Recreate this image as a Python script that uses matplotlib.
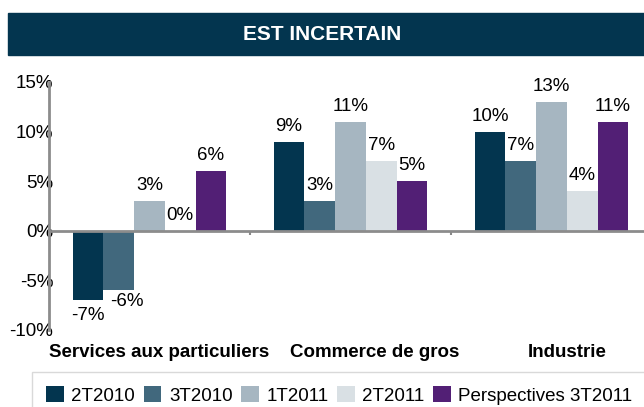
import numpy as np
import matplotlib.pyplot as plt
from matplotlib.patches import Rectangle

plt.rcParams['font.family'] = ['Liberation Sans', 'DejaVu Sans']

categories = ["Services aux particuliers", "Commerce de gros", "Industrie"]
series = ["2T2010", "3T2010", "1T2011", "2T2011", "Perspectives 3T2011"]
v_2t2010 = [-7, 9, 10]
v_3t2010 = [-6, 3, 7]
v_1t2011 = [3, 11, 13]
v_2t2011 = [0, 7, 4]
v_persp = [6, 5, 11]
colors = ["#03354f", "#41687d", "#a6b6c1", "#d9e0e4", "#521f75"]
title = "EST INCERTAIN"

values = [v_2t2010, v_3t2010, v_1t2011, v_2t2011, v_persp]
fs = 13.5

fig = plt.figure(figsize=(6.44, 4.07), dpi=100)

# title banner
fig.patches.append(Rectangle((8 / 644, 1 - 55 / 407), 1.0, 42 / 407,
                             transform=fig.transFigure, color="#03354f", zorder=0))
fig.text(322 / 644, 1 - 34 / 407, title, color="white", fontsize=15,
         fontweight="bold", ha="center", va="center")

ax = fig.add_axes([49 / 644, 1 - 330 / 407, 603 / 644, 248 / 407])
x = np.arange(len(categories))
w = 0.153
for i, (vals, c) in enumerate(zip(values, colors)):
    xs = x + (i - 2) * w
    ax.bar(xs, vals, w, color=c, label=series[i], zorder=2)
    for xx, v in zip(xs, vals):
        if v < 0:
            dx = 6 if i == 1 else 0
            dy = -2 if i == 1 else -5
            ax.annotate("%d%%" % v, (xx, v), xytext=(dx, dy), textcoords="offset points",
                        ha="center", va="top", fontsize=fs)
        else:
            ax.annotate("%d%%" % v, (xx, v), xytext=(0, 5), textcoords="offset points",
                        ha="center", va="bottom", fontsize=fs)

ax.set_xlim(-0.5, 2.5)
ax.set_ylim(-10, 15)
ax.set_yticks(np.arange(-10, 16, 5))
ax.set_yticklabels(["%d%%" % t for t in np.arange(-10, 16, 5)], fontsize=fs)
ax.tick_params(axis="y", length=0, pad=-3)
ax.set_xticks([0.5, 1.5])
ax.set_xticklabels([])
ax.tick_params(axis="x", length=3, width=1.5, color="#888888", direction="out")

# category labels below the plot (slightly right of group centre, as in the source)
label_dx = [0.05, 0.12, 0.08]
for xi, cat, d in zip(x, categories, label_dx):
    ax.annotate(cat, (xi + d, -10), xytext=(0, -10), textcoords="offset points",
                ha="center", va="top", fontsize=fs, fontweight="bold",
                annotation_clip=False)

for s in ["top", "right"]:
    ax.spines[s].set_visible(False)
ax.spines["bottom"].set_position(("data", 0))
ax.spines["bottom"].set_color("#8c8c8c")
ax.spines["bottom"].set_linewidth(2)
ax.spines["left"].set_color("#8c8c8c")
ax.spines["left"].set_linewidth(2)
ax.set_zorder(1)

leg = fig.legend(loc="upper left", bbox_to_anchor=(32 / 644, 1 - 372 / 407), ncol=5,
                 fontsize=13.5, frameon=True, fancybox=False, handlelength=0.95,
                 handleheight=0.95, handletextpad=0.4, columnspacing=0.45,
                 borderpad=0.75, borderaxespad=0)
leg.get_frame().set_edgecolor("#d0d0d0")
leg.get_frame().set_linewidth(1)

fig.savefig("out.png", dpi=100)
